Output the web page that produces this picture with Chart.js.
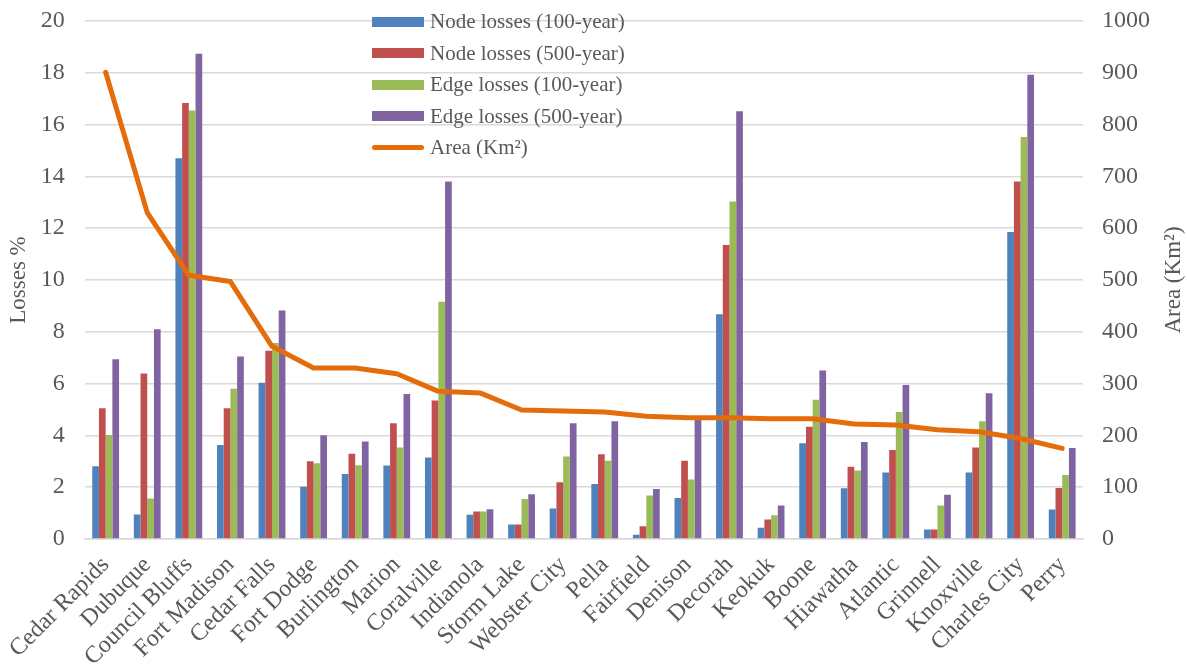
<!DOCTYPE html>
<html>
<head>
<meta charset="utf-8">
<script src="https://cdn.jsdelivr.net/npm/chart.js@4/dist/chart.umd.min.js"></script>
<style>
  html, body { margin: 0; padding: 0; background: #ffffff; }
  #wrap { position: relative; width: 1187px; height: 665px; }
  #legend {
    position: absolute; left: 372px; top: 6px;
    font-family: "Liberation Serif", "Times New Roman", serif;
    font-size: 21px; color: #595959;
  }
  .row { display: flex; align-items: center; height: 31.5px; }
  .sw { width: 52px; height: 10px; margin-right: 6px; }
  .ln { width: 52px; height: 5px; border-radius: 3px; margin-right: 6px; }
</style>
</head>
<body>
<div id="wrap">
  <canvas id="c" width="1187" height="665"></canvas>
  <div id="legend"></div>
</div>
<script>
const categories = ['Cedar Rapids', 'Dubuque', 'Council Bluffs', 'Fort Madison', 'Cedar Falls',
  'Fort Dodge', 'Burlington', 'Marion', 'Coralville', 'Indianola', 'Storm Lake', 'Webster City',
  'Pella', 'Fairfield', 'Denison', 'Decorah', 'Keokuk', 'Boone', 'Hiawatha', 'Atlantic',
  'Grinnell', 'Knoxville', 'Charles City', 'Perry'];

const nodeLoss100 = [2.81, 0.95, 14.70, 3.63, 6.03, 2.02, 2.51, 2.84, 3.15, 0.94, 0.56, 1.18,
  2.12, 0.16, 1.58, 8.68, 0.43, 3.70, 1.96, 2.57, 0.37, 2.57, 11.85, 1.14];
const nodeLoss500 = [5.05, 6.39, 16.83, 5.05, 7.27, 3.00, 3.29, 4.47, 5.35, 1.06, 0.56, 2.19,
  3.27, 0.49, 3.02, 11.35, 0.75, 4.33, 2.79, 3.44, 0.37, 3.53, 13.80, 1.97];
const edgeLoss100 = [4.02, 1.56, 16.54, 5.80, 7.57, 2.92, 2.85, 3.53, 9.16, 1.06, 1.54, 3.19,
  3.02, 1.68, 2.30, 13.03, 0.92, 5.38, 2.64, 4.90, 1.29, 4.55, 15.52, 2.47];
const edgeLoss500 = [6.94, 8.10, 18.74, 7.05, 8.82, 4.01, 3.76, 5.60, 13.80, 1.15, 1.73, 4.47,
  4.55, 1.93, 4.60, 16.52, 1.29, 6.51, 3.75, 5.95, 1.71, 5.63, 17.92, 3.51];
const areaKm2 = [901, 630, 509, 497, 372, 330, 330, 319, 285, 282, 249, 247,
  245, 237, 234, 234, 232, 232, 222, 220, 211, 207, 194, 175];

const FONT = '"Liberation Serif", "Times New Roman", serif';
const TEXT = '#595959';
const GRID = '#d9d9d9';

const barStyle = { categoryPercentage: 0.645, barPercentage: 1.0, borderWidth: 0, yAxisID: 'y', order: 2 };

const datasets = [
  Object.assign({ type: 'bar', label: 'Node losses (100-year)', data: nodeLoss100, backgroundColor: '#4f81bd' }, barStyle),
  Object.assign({ type: 'bar', label: 'Node losses (500-year)', data: nodeLoss500, backgroundColor: '#c0504d' }, barStyle),
  Object.assign({ type: 'bar', label: 'Edge losses (100-year)', data: edgeLoss100, backgroundColor: '#9bbb59' }, barStyle),
  Object.assign({ type: 'bar', label: 'Edge losses (500-year)', data: edgeLoss500, backgroundColor: '#8064a2' }, barStyle),
  { type: 'line', label: 'Area (Km²)', data: areaKm2, borderColor: '#e46c0a', backgroundColor: '#e46c0a',
    borderWidth: 5, pointRadius: 0, tension: 0, borderCapStyle: 'round', borderJoinStyle: 'round',
    yAxisID: 'y1', order: 1 }
];

// right-hand axis title, drawn reading bottom-to-top
const rightTitle = {
  id: 'rightTitle',
  afterDraw(chart) {
    const ctx = chart.ctx;
    const area = chart.chartArea;
    ctx.save();
    ctx.translate(1174, (area.top + area.bottom) / 2);
    ctx.rotate(-Math.PI / 2);
    ctx.font = '23px ' + FONT;
    ctx.fillStyle = TEXT;
    ctx.textAlign = 'center';
    ctx.textBaseline = 'middle';
    ctx.fillText('Area (Km²)', 0, 0);
    ctx.restore();
  }
};

const chart = new Chart(document.getElementById('c'), {
  data: { labels: categories, datasets: datasets },
  options: {
    responsive: false,
    animation: false,
    layout: { padding: { top: 21, left: 0, right: 0, bottom: 0 } },
    plugins: { legend: { display: false }, tooltip: { enabled: false } },
    scales: {
      x: {
        grid: { display: false, drawTicks: false },
        border: { display: true, color: GRID, width: 1.5 },
        ticks: { color: TEXT, font: { family: FONT, size: 24 }, maxRotation: 45, minRotation: 45, padding: 12, autoSkip: false },
        afterFit(s) { s.height = 126; }
      },
      y: {
        position: 'left', min: 0, max: 20,
        grid: { color: GRID, lineWidth: 1.5, drawTicks: false },
        border: { display: false },
        ticks: { stepSize: 2, color: TEXT, font: { family: FONT, size: 24 }, padding: 20 },
        title: { display: true, text: 'Losses %', color: TEXT, font: { family: FONT, size: 23 }, padding: { top: 4, bottom: 0 } },
        afterFit(s) { s.width = 84; s.paddingTop = 0; s.paddingBottom = 0; }
      },
      y1: {
        position: 'right', min: 0, max: 1000,
        grid: { display: false, drawTicks: false },
        border: { display: false },
        ticks: { stepSize: 100, color: TEXT, font: { family: FONT, size: 24 }, padding: 19,
          callback: v => String(v) },
        afterFit(s) { s.width = 104; s.paddingTop = 0; s.paddingBottom = 0; }
      }
    }
  },
  plugins: [rightTitle]
});

// legend built from the chart's datasets
const legend = document.getElementById('legend');
chart.data.datasets.forEach(ds => {
  const row = document.createElement('div');
  row.className = 'row';
  const sw = document.createElement('div');
  sw.className = ds.type === 'line' ? 'ln' : 'sw';
  sw.style.background = ds.type === 'line' ? ds.borderColor : ds.backgroundColor;
  const tx = document.createElement('span');
  tx.textContent = ds.label;
  row.appendChild(sw);
  row.appendChild(tx);
  legend.appendChild(row);
});
</script>
</body>
</html>
